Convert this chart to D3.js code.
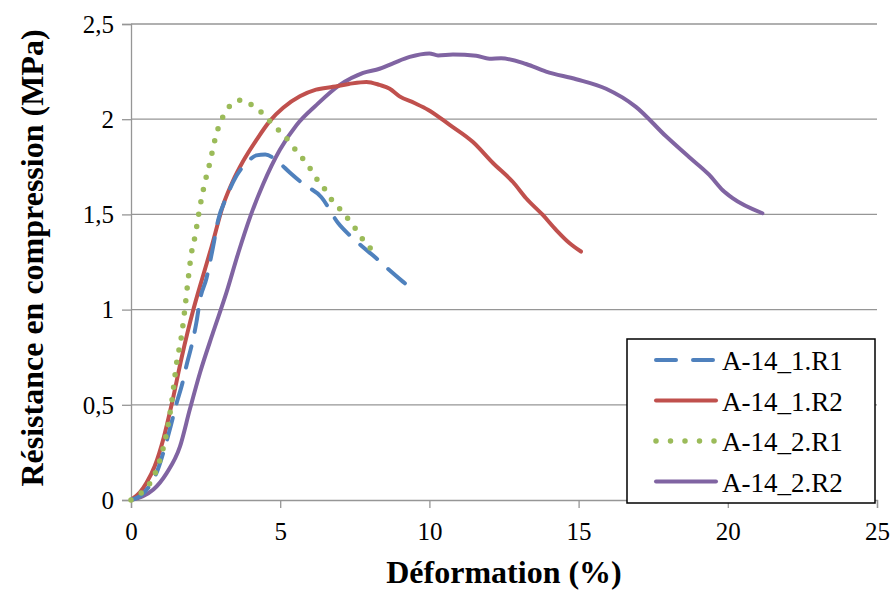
<!DOCTYPE html>
<html><head><meta charset="utf-8"><script src="https://cdn.jsdelivr.net/npm/d3@7/dist/d3.min.js"></script></head>
<body style="margin:0">
<svg id="chart" width="892" height="590"></svg>
<script>
// ---- Data ----
const xTicks = [0, 5, 10, 15, 20, 25];
const yTicks = [0, 0.5, 1, 1.5, 2, 2.5];
const yTickLabels = ["0", "0,5", "1", "1,5", "2", "2,5"];
const seriesNames = ["A-14_1.R1", "A-14_1.R2", "A-14_2.R1", "A-14_2.R2"];

const a14_1_R1 = [[0,0],[0.3,0.02],[0.6,0.07],[0.9,0.16],[1.14,0.28],[1.3,0.37],[1.53,0.51],[1.7,0.6],[1.88,0.72],[2.03,0.81],[2.2,0.94],[2.31,1.05],[2.53,1.165],[2.75,1.33],[2.92,1.47],[3.2,1.59],[3.42,1.67],[3.93,1.78],[4.2,1.81],[4.5,1.815],[4.9,1.78],[5.32,1.72],[5.77,1.66],[6.38,1.59],[6.94,1.455],[7.33,1.39],[7.76,1.33],[8.22,1.27],[8.57,1.22],[9.11,1.147],[9.55,1.09]];

const a14_1_R2 = [[0,0],[0.3,0.04],[0.52,0.09],[0.8,0.18],[1.1,0.33],[1.36,0.5],[1.7,0.75],[2.09,1.0],[2.4,1.17],[2.7,1.33],[3.09,1.55],[3.4,1.67],[3.76,1.78],[4.2,1.89],[4.65,1.99],[5.1,2.06],[5.66,2.12],[6.2,2.155],[6.77,2.17],[7.3,2.185],[7.89,2.196],[8.33,2.18],[8.67,2.16],[9.0,2.12],[9.5,2.085],[9.95,2.05],[10.68,1.97],[11.46,1.88],[12.13,1.77],[12.8,1.67],[13.24,1.585],[13.8,1.497],[14.25,1.418],[14.69,1.35],[15.08,1.305]];

const a14_2_R1 = [[0,0],[0.36,0.04],[0.64,0.09],[0.97,0.21],[1.19,0.35],[1.36,0.51],[1.53,0.72],[1.7,0.87],[1.81,1.01],[1.92,1.165],[2.03,1.3],[2.14,1.38],[2.31,1.54],[2.48,1.67],[2.64,1.77],[2.81,1.89],[2.98,1.98],[3.15,2.03],[3.37,2.08],[3.7,2.10],[4.13,2.065],[4.48,2.02],[4.76,1.97],[5.1,1.92],[5.66,1.81],[5.93,1.76],[6.16,1.70],[6.44,1.645],[6.66,1.59],[6.94,1.54],[7.16,1.497],[7.44,1.445],[7.66,1.39],[7.94,1.34],[8.17,1.287]];

const a14_2_R2 = [[0,0],[0.4,0.02],[0.75,0.055],[1.19,0.14],[1.64,0.28],[1.97,0.475],[2.31,0.667],[2.75,0.88],[3.2,1.09],[3.6,1.3],[4.0,1.49],[4.43,1.66],[4.99,1.84],[5.55,1.97],[6.21,2.074],[7.0,2.18],[7.78,2.243],[8.33,2.265],[8.8,2.295],[9.34,2.327],[10.0,2.345],[10.29,2.335],[10.79,2.34],[11.57,2.333],[12.01,2.318],[12.4,2.32],[13.24,2.29],[13.91,2.25],[14.92,2.21],[15.92,2.16],[16.92,2.065],[17.93,1.91],[18.71,1.80],[19.38,1.707],[19.82,1.628],[20.16,1.585],[21.16,1.506]];

const seriesData = [a14_1_R1, a14_1_R2, a14_2_R1, a14_2_R2];
const seriesColors = ["#4F81BD", "#C0504D", "#9BBB59", "#8064A2"];

// ---- Layout ----
const svg = d3.select("#chart");
const plotLeft = 131, plotRight = 877, plotTop = 24, plotBottom = 500;

const x = d3.scaleLinear().domain([0, 25]).range([plotLeft, plotRight]);
const y = d3.scaleLinear().domain([0, 2.5]).range([plotBottom, plotTop]);

const gridColor = "#969696";
const fontFam = "'Liberation Serif', Tinos, 'Times New Roman', monospace";

svg.append("g")
  .selectAll("line")
  .data(yTicks.filter(d => d > 0))
  .join("line")
  .attr("x1", plotLeft).attr("x2", plotRight)
  .attr("y1", d => y(d)).attr("y2", d => y(d))
  .attr("stroke", gridColor).attr("stroke-width", 1.3);

const yAxis = svg.append("g")
  .attr("transform", `translate(${plotLeft},0)`)
  .call(d3.axisLeft(y).tickValues(yTicks).tickFormat((d, i) => yTickLabels[i]).tickSize(9).tickPadding(8));
yAxis.attr("font-family", fontFam).attr("font-size", 25);
yAxis.select(".domain").attr("stroke", gridColor).attr("stroke-width", 1.3);
yAxis.selectAll(".tick line").attr("stroke", gridColor).attr("stroke-width", 1.3);
yAxis.selectAll(".tick text")
  .style("font-family", fontFam)
  .attr("font-size", 25).attr("fill", "#000").attr("dy", "0.33em");

const xAxis = svg.append("g")
  .attr("transform", `translate(0,${plotBottom})`)
  .call(d3.axisBottom(x).tickValues(xTicks).tickSize(8).tickPadding(14));
xAxis.attr("font-family", fontFam).attr("font-size", 25);
xAxis.select(".domain").attr("stroke", gridColor).attr("stroke-width", 1.3);
xAxis.selectAll(".tick line").attr("stroke", gridColor).attr("stroke-width", 1.3);
xAxis.selectAll(".tick text")
  .style("font-family", fontFam)
  .attr("font-size", 25).attr("fill", "#000");

const line = d3.line().x(d => x(d[0])).y(d => y(d[1])).curve(d3.curveMonotoneX);
const styles = [
  { dash: "22,15", width: 4 },
  { dash: null, width: 4 },
  { dash: "0,12.5", width: 5.5 },
  { dash: null, width: 4 }
];
[3, 1, 0, 2].forEach(i => {
  svg.append("path")
    .datum(seriesData[i])
    .attr("d", line)
    .attr("fill", "none")
    .attr("stroke", seriesColors[i])
    .attr("stroke-width", styles[i].width)
    .attr("stroke-linecap", "round")
    .attr("stroke-linejoin", "round")
    .attr("stroke-dasharray", styles[i].dash);
});

const lg = svg.append("g");
lg.append("rect")
  .attr("x", 627).attr("y", 339).attr("width", 248).attr("height", 164)
  .attr("fill", "#fff").attr("stroke", "#000").attr("stroke-width", 1.5);
seriesNames.forEach((name, i) => {
  const cy = 360 + i * 40.5;
  lg.append("line")
    .attr("x1", 656).attr("x2", 716).attr("y1", cy).attr("y2", cy)
    .attr("stroke", seriesColors[i])
    .attr("stroke-width", styles[i].width)
    .attr("stroke-linecap", "round")
    .attr("stroke-dasharray", i === 0 ? "20,17" : (i === 2 ? "0,14.5" : null));
  lg.append("text")
    .attr("x", 722).attr("y", cy + 10)
    .style("font-family", fontFam)
    .attr("font-size", 27).attr("fill", "#000")
    .text(name);
});

svg.append("text")
  .attr("x", (plotLeft + plotRight) / 2).attr("y", 583)
  .attr("text-anchor", "middle")
  .style("font-family", fontFam)
  .attr("font-size", 32).attr("font-weight", "bold")
  .text("Déformation (%)");

svg.append("text")
  .attr("transform", "translate(43,258) rotate(-90)")
  .attr("text-anchor", "middle")
  .style("font-family", fontFam)
  .attr("font-size", 32).attr("font-weight", "bold")
  .text("Résistance en compression (MPa)");
</script>
</body>
</html>
